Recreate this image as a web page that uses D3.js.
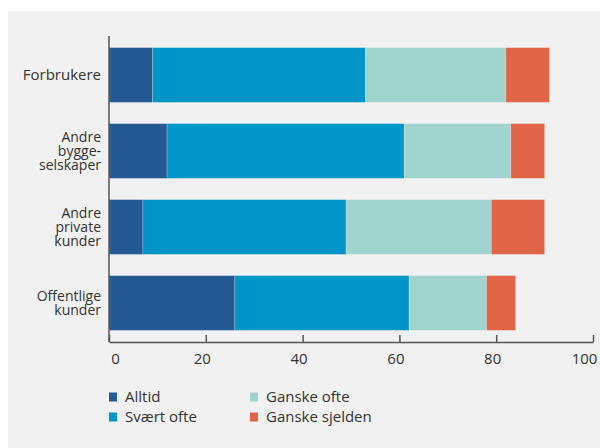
<!DOCTYPE html>
<html>
<head>
<meta charset="utf-8">
<script src="https://cdn.jsdelivr.net/npm/d3@7"></script>
<style>
  html, body { margin: 0; padding: 0; background: #fff; }
  svg { display: block; }
  text { font-family: "Open Sans", "Noto Sans", sans-serif; fill: #333; }
</style>
</head>
<body>
<svg id="chart" width="600" height="448"></svg>
<script>
// Respondent groups (multi-line labels) and share per answer, in percent
const categories = ["Forbrukere", "Andre byggeselskaper", "Andre private kunder", "Offentlige kunder"];
const categoryLines = [["Forbrukere"], ["Andre", "bygge-", "selskaper"], ["Andre", "private", "kunder"], ["Offentlige", "kunder"]];
const seriesNames = ["Alltid", "Svært ofte", "Ganske ofte", "Ganske sjelden"];
const alltid = [9, 12, 7, 26];
const svaertOfte = [44, 49, 42, 36];
const ganskeOfte = [29, 22, 30, 16];
const ganskeSjelden = [9, 7, 11, 6];
const xTicks = [0, 20, 40, 60, 80, 100];
const colors = ["#245a93", "#0095c8", "#a0d4ce", "#e06546"];

const svg = d3.select("#chart");
const W = 600, H = 448;

// panel background
svg.append("rect").attr("x", 8).attr("y", 11).attr("width", W - 8).attr("height", H - 11).attr("fill", "#f1f1f1");

const x = d3.scaleLinear().domain([0, 100]).range([109, 593]);
const y = d3.scaleBand().domain(categories).range([37, 341]).paddingInner(0.28).paddingOuter(0.14);

const rows = categories.map((c, i) => ({
  cat: c, "Alltid": alltid[i], "Svært ofte": svaertOfte[i], "Ganske ofte": ganskeOfte[i], "Ganske sjelden": ganskeSjelden[i]
}));
const stacked = d3.stack().keys(seriesNames)(rows);

svg.append("g").selectAll("g").data(stacked).join("g")
  .attr("fill", (d, i) => colors[i])
  .selectAll("rect").data(d => d).join("rect")
  .attr("x", d => x(d[0]))
  .attr("y", d => y(d.data.cat))
  .attr("width", d => x(d[1]) - x(d[0]))
  .attr("height", y.bandwidth())
  .attr("stroke", "rgba(255,255,255,0.25)")
  .attr("stroke-width", 0.8);

// x axis with inward ticks
const axisY = 342;
const xAxis = svg.append("g").attr("transform", `translate(0,${axisY})`)
  .call(d3.axisBottom(x).tickValues(xTicks).tickSize(-7).tickSizeOuter(0).tickPadding(14));
xAxis.selectAll("path, line").attr("stroke", "#555").attr("stroke-width", 1.5);
xAxis.selectAll("text").attr("font-size", 15).attr("fill", "#333")
  .attr("dy", "0.55em")
  .attr("dx", d => d === 0 ? 6 : d === 100 ? -9 : -4);

// y axis line
svg.append("line").attr("x1", x(0)).attr("x2", x(0)).attr("y1", 36).attr("y2", axisY)
  .attr("stroke", "#555").attr("stroke-width", 1.5);

// category labels
const lineH = 14;
categories.forEach((c, i) => {
  const lines = categoryLines[i];
  const cy = y(c) + y.bandwidth() / 2;
  const t = svg.append("text").attr("text-anchor", "end").attr("font-size", lines.length > 1 ? 14 : 15);
  lines.forEach((l, j) => {
    t.append("tspan").attr("x", 101)
      .attr("y", cy + (j - (lines.length - 1) / 2) * lineH)
      .attr("dy", "0.35em").text(l);
  });
});

// legend
const legendPos = [[109, 397], [109, 417], [250, 397], [250, 417]];
seriesNames.forEach((s, i) => {
  const [lx, ly] = legendPos[i];
  svg.append("rect").attr("x", lx).attr("y", ly - 4.5).attr("width", 8).attr("height", 9).attr("fill", colors[i]);
  svg.append("text").attr("x", lx + 16).attr("y", ly).attr("dy", "0.35em").attr("font-size", 15).text(s);
});
</script>
</body>
</html>
